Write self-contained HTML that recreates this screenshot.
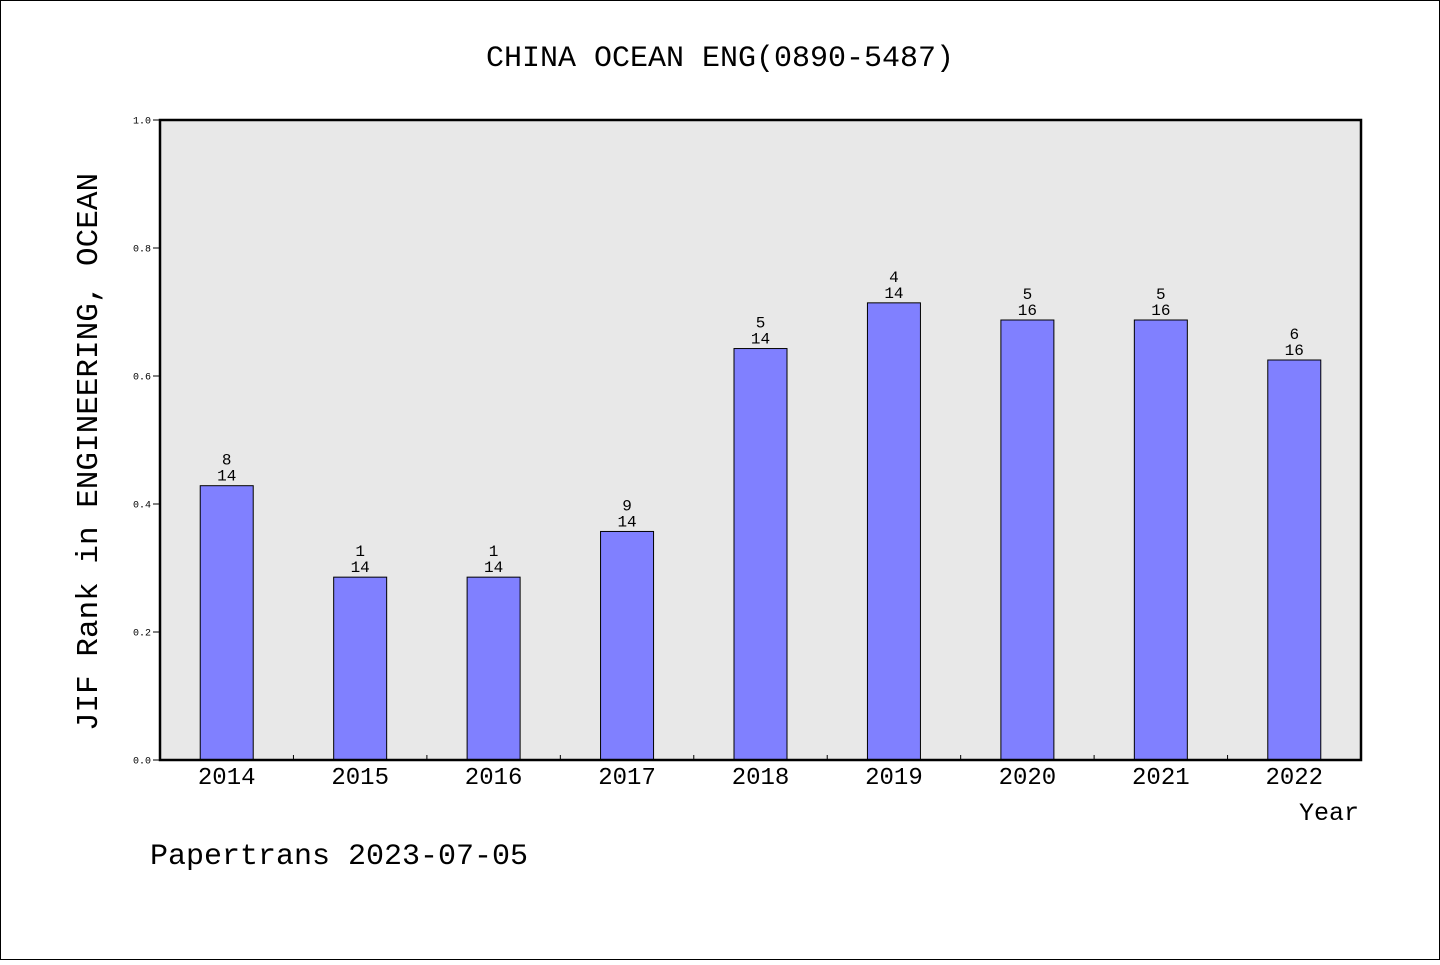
<!DOCTYPE html>
<html><head><meta charset="utf-8"><style>
html,body{margin:0;padding:0;background:#fff}
svg text{font-family:"Liberation Mono","DejaVu Sans Mono",monospace;fill:#000}
</style></head><body>
<svg width="1440" height="960" xmlns="http://www.w3.org/2000/svg">
<rect x="0.5" y="0.5" width="1439" height="959" fill="#fff" stroke="#000"/>
<text x="720" y="66" text-anchor="middle" font-size="30">CHINA OCEAN ENG(0890-5487)</text>
<rect x="160" y="120" width="1201" height="640" fill="#e8e8e8"/>
<g id="bars"></g>
<rect x="160" y="120" width="1201" height="640" fill="none" stroke="#000" stroke-width="2.5"/>
<text transform="translate(97,452) rotate(-90)" text-anchor="middle" font-size="31">JIF Rank in ENGINEERING, OCEAN</text>
<text x="1359" y="820" text-anchor="end" font-size="25">Year</text>
<text x="150" y="864" font-size="30">Papertrans 2023-07-05</text>
</svg>
<script>
const categories=["2014","2015","2016","2017","2018","2019","2020","2021","2022"];
const ranks=[8,1,1,9,5,4,5,5,6];
const totals=[14,14,14,14,14,14,16,16,16];
const values=[0.4286,0.2857,0.2857,0.3571,0.6429,0.7143,0.6875,0.6875,0.625];
const yTicks=[0,0.2,0.4,0.6,0.8,1.0];
const yTickLabels=["0.0","0.2","0.4","0.6","0.8","1.0"];
const NS="http://www.w3.org/2000/svg";
const L=160,R=1361,T=120,B=760;
const band=(R-L)/categories.length;
const x=i=>L+band*(i+0.5);
const y=v=>B-v*(B-T);
const g=document.getElementById('bars');
function mk(t,a){const e=document.createElementNS(NS,t);for(const k in a)e.setAttribute(k,a[k]);g.appendChild(e);return e;}
yTicks.forEach((v,i)=>{
 const l=mk('line',{x1:153,x2:160,y1:y(v),y2:y(v),stroke:'#000'});
 
 
 const t=mk('text',{x:151,y:y(v)+3.5,'text-anchor':'end','font-size':10});
 t.textContent=yTickLabels[i];
 
 
});
categories.forEach((c,i)=>{
 const bw=53,v=values[i];
 const r=mk('rect',{x:x(i)-bw/2,y:y(v),width:bw,height:B-y(v),fill:'#8080ff',stroke:'#000','stroke-width':1});
 
 
 const t1=mk('text',{x:x(i),y:y(v)-21,'text-anchor':'middle','font-size':16});
 t1.textContent=ranks[i];
 
 
 const t2=mk('text',{x:x(i),y:y(v)-5,'text-anchor':'middle','font-size':16});
 t2.textContent=totals[i];
 
 
 const xl=mk('text',{x:x(i),y:784,'text-anchor':'middle','font-size':24});
 xl.textContent=c;
 
 
 if(i>0){
  const tk=mk('line',{x1:L+band*i,x2:L+band*i,y1:B,y2:B-5,stroke:'#000'});
  
  
 }
});
</script>
</body></html>
